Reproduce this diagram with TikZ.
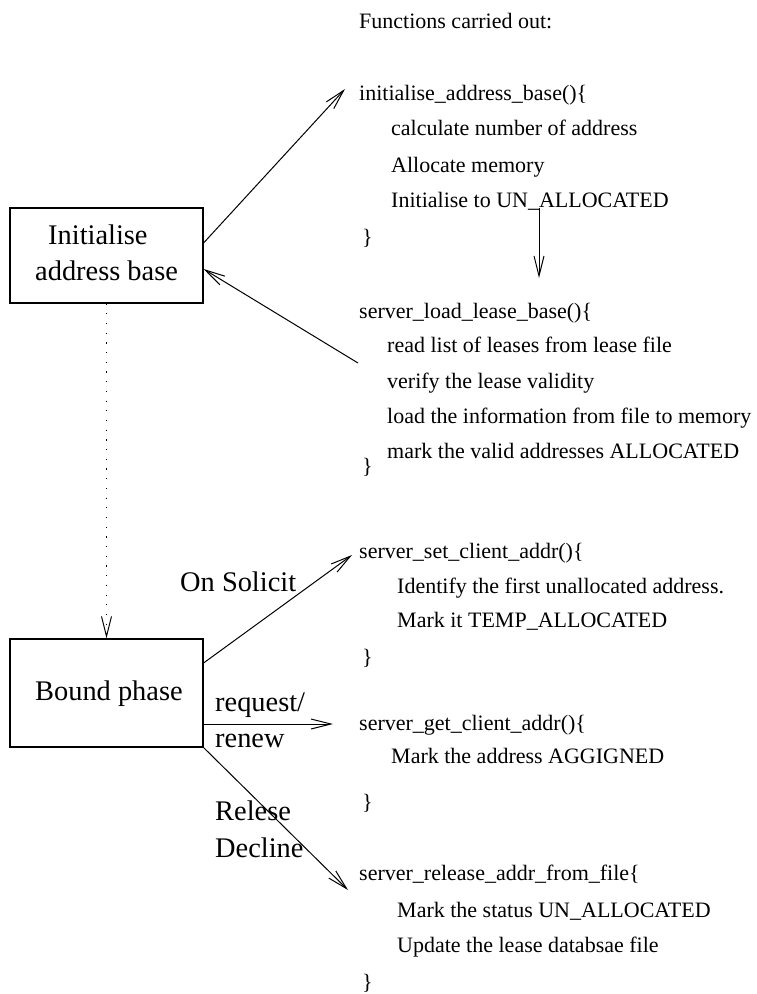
\documentclass[tikz,border=0pt]{standalone}
\usepackage{fontspec}
\setmainfont{Liberation Serif}
\usepackage{tikz}
\usetikzlibrary{arrows.meta, positioning}
\tikzstyle{block} = [draw, rectangle, line width=1.1pt, minimum width=193pt, inner sep=0pt]
\tikzstyle{big} = [anchor=base west, inner sep=0pt, font=\fontsize{28.4}{34}\selectfont]
\tikzstyle{code} = [anchor=base west, inner sep=0pt, font=\fontsize{22}{26}\selectfont]
\tikzstyle{link} = [->, line width=1pt]

\begin{document}
\begin{tikzpicture}[x=1pt, y=-1pt, >={Straight Barb[length=20pt,width=10pt]}]
    \useasboundingbox (0,0) rectangle (757,994);
    % the two phases
    \node[block, minimum height=95pt] (init) at (106.5,255.5) {};
    \node[big] (initA) at (48,244) {Initialise};
    \node[big] (initB) at (35,280) {address base};
    \node[block, minimum height=108pt] (bound) at (106.5,693) {};
    \node[big] (boundt) at (35,700) {Bound phase};

    % functions
    \node[code] (title) at (359,28) {Functions carried out:};
    \node[code] (fa) at (359,100) {initialise\_address\_base()\{};
    \node[code] (fa1) at (391,135) {calculate number of address};
    \node[code] (fa2) at (391,172) {Allocate memory};
    \node[code] (fa3) at (391,207) {Initialise to UN\_ALLOCATED};
    \node[code] (faend) at (362,244) {\}};

    \node[code] (fb) at (359,318) {server\_load\_lease\_base()\{};
    \node[code] (fb1) at (387,352) {read list of leases from lease file};
    \node[code] (fb2) at (387,388) {verify the lease validity};
    \node[code] (fb3) at (387,423) {load the information from file to memory};
    \node[code] (fb4) at (387,458) {mark the valid addresses ALLOCATED};
    \node[code] (fbend) at (362,473) {\}};

    \node[code] (fc) at (359,558) {server\_set\_client\_addr()\{};
    \node[code] (fc1) at (397,593) {Identify the first unallocated address.};
    \node[code] (fc2) at (397,627) {Mark it TEMP\_ALLOCATED};
    \node[code] (fcend) at (362,664) {\}};

    \node[code] (fd) at (359,730) {server\_get\_client\_addr()\{};
    \node[code] (fd1) at (391,763) {Mark the address AGGIGNED};
    \node[code] (fdend) at (362,809) {\}};

    \node[code] (fe) at (359,880) {server\_release\_addr\_from\_file\{};
    \node[code] (fe1) at (397,917) {Mark the status UN\_ALLOCATED};
    \node[code] (fe2) at (397,952) {Update the lease databsae file};
    \node[code] (feend) at (362,989) {\}};

    % arrow labels
    \node[big] (solicit) at (180,591) {On Solicit};
    \node[big] (req) at (215,711) {request/};
    \node[big] (renew) at (215,747) {renew};
    \node[big] (relese) at (215,820) {Relese};
    \node[big] (decline) at (215,857) {Decline};

    \coordinate (tipa) at (345,89);
    \coordinate (tailb) at (358,363);
    \coordinate (downa) at (539,208);
    \coordinate (downb) at (539,278);
    \coordinate (tipc) at (352,555);
    \coordinate (tipd) at (333,724);
    \coordinate (tipe) at (348,890);

    \draw[link] ([yshift=12.5pt]init.east) -- (tipa);
    \draw[link] (tailb) -- ([yshift=-13.5pt]init.east);
    \draw[link] (downa) -- (downb);
    \draw[link, dash pattern=on 1.2pt off 8.5pt] (init.south) -- (bound.north);
    \draw[link] ([yshift=30pt]bound.east) -- (tipc);
    \draw[link] ([yshift=-31pt]bound.east) -- (tipd);
    \draw[link] (bound.south east) -- (tipe);
\end{tikzpicture}
\end{document}
